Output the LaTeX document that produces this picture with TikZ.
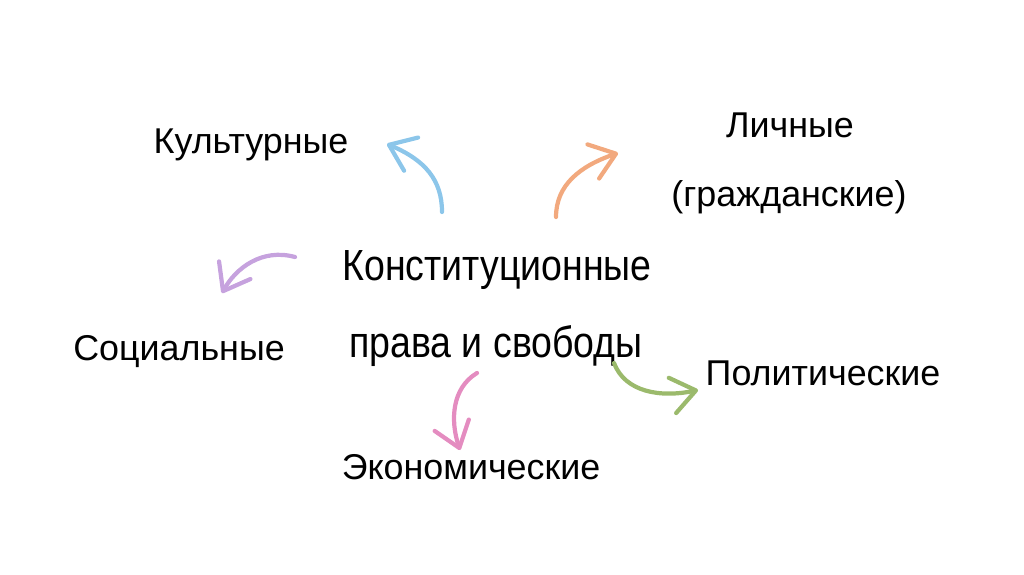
\documentclass[tikz,border=0pt]{standalone}
\usepackage{fontspec}
\setmainfont{Liberation Sans}
\newfontfamily\strettofont[FakeStretch=0.86]{Liberation Sans}
\usetikzlibrary{arrows.meta}

\definecolor{azzurro}{HTML}{8CC6EA}
\definecolor{arancio}{HTML}{F2A97E}
\definecolor{viola}{HTML}{C6A2DE}
\definecolor{rosa}{HTML}{E48CC0}
\definecolor{verde}{HTML}{9BBA6C}

\tikzset{
  voce/.style={font=\fontsize{25.5}{30}\selectfont},
  centro/.style={font=\strettofont\fontsize{31}{36}\selectfont},
  freccia/.style={line width=3pt, line cap=round, line join=round,
    -{Straight Barb[length=6mm,width=9mm,round]}}
}

\begin{document}
\begin{tikzpicture}[x=0.025cm,y=-0.025cm]
            \useasboundingbox (0,0) rectangle (1024,574);

            % Testo centrale
            \node[centro] (cost) at (497,270) {Конституционные};
            \node[centro] (prav) at (496,346) {права и свободы};

            % Tipi di diritti
            \node[voce] (kult) at (251,145) {Культурные};
            \node[voce] (lich) at (790,125) {Личные};
            \node[voce] (grazh) at (789,197) {(гражданские)};
            \node[voce] (soc) at (179,352) {Социальные};
            \node[voce] (pol) at (823,373) {Политические};
            \node[voce] (econ) at (471,467) {Экономические};

            % Estremi delle frecce
            \coordinate (a1) at (442,212);  \coordinate (b1) at (387,144);
            \coordinate (a2) at (556,217);  \coordinate (b2) at (618,153);
            \coordinate (a3) at (295,257);  \coordinate (b3) at (222,293);
            \coordinate (a4) at (477,373);  \coordinate (b4) at (460,450);
            \coordinate (a5) at (614,363);  \coordinate (b5) at (698,390);

            % Frecce
            \draw[freccia, azzurro] (a1) .. controls (442,180) and (425,160) .. (b1);
            \draw[freccia, arancio] (a2) .. controls (556,185) and (580,166) .. (b2);
            \draw[freccia, viola] (a3) .. controls (262,248) and (236,268) .. (b3);
            \draw[freccia, rosa] (a4) .. controls (452,388) and (450,420) .. (b4);
            \draw[freccia, verde] (a5) .. controls (625,392) and (660,398) .. (b5);

        \end{tikzpicture}
\end{document}
